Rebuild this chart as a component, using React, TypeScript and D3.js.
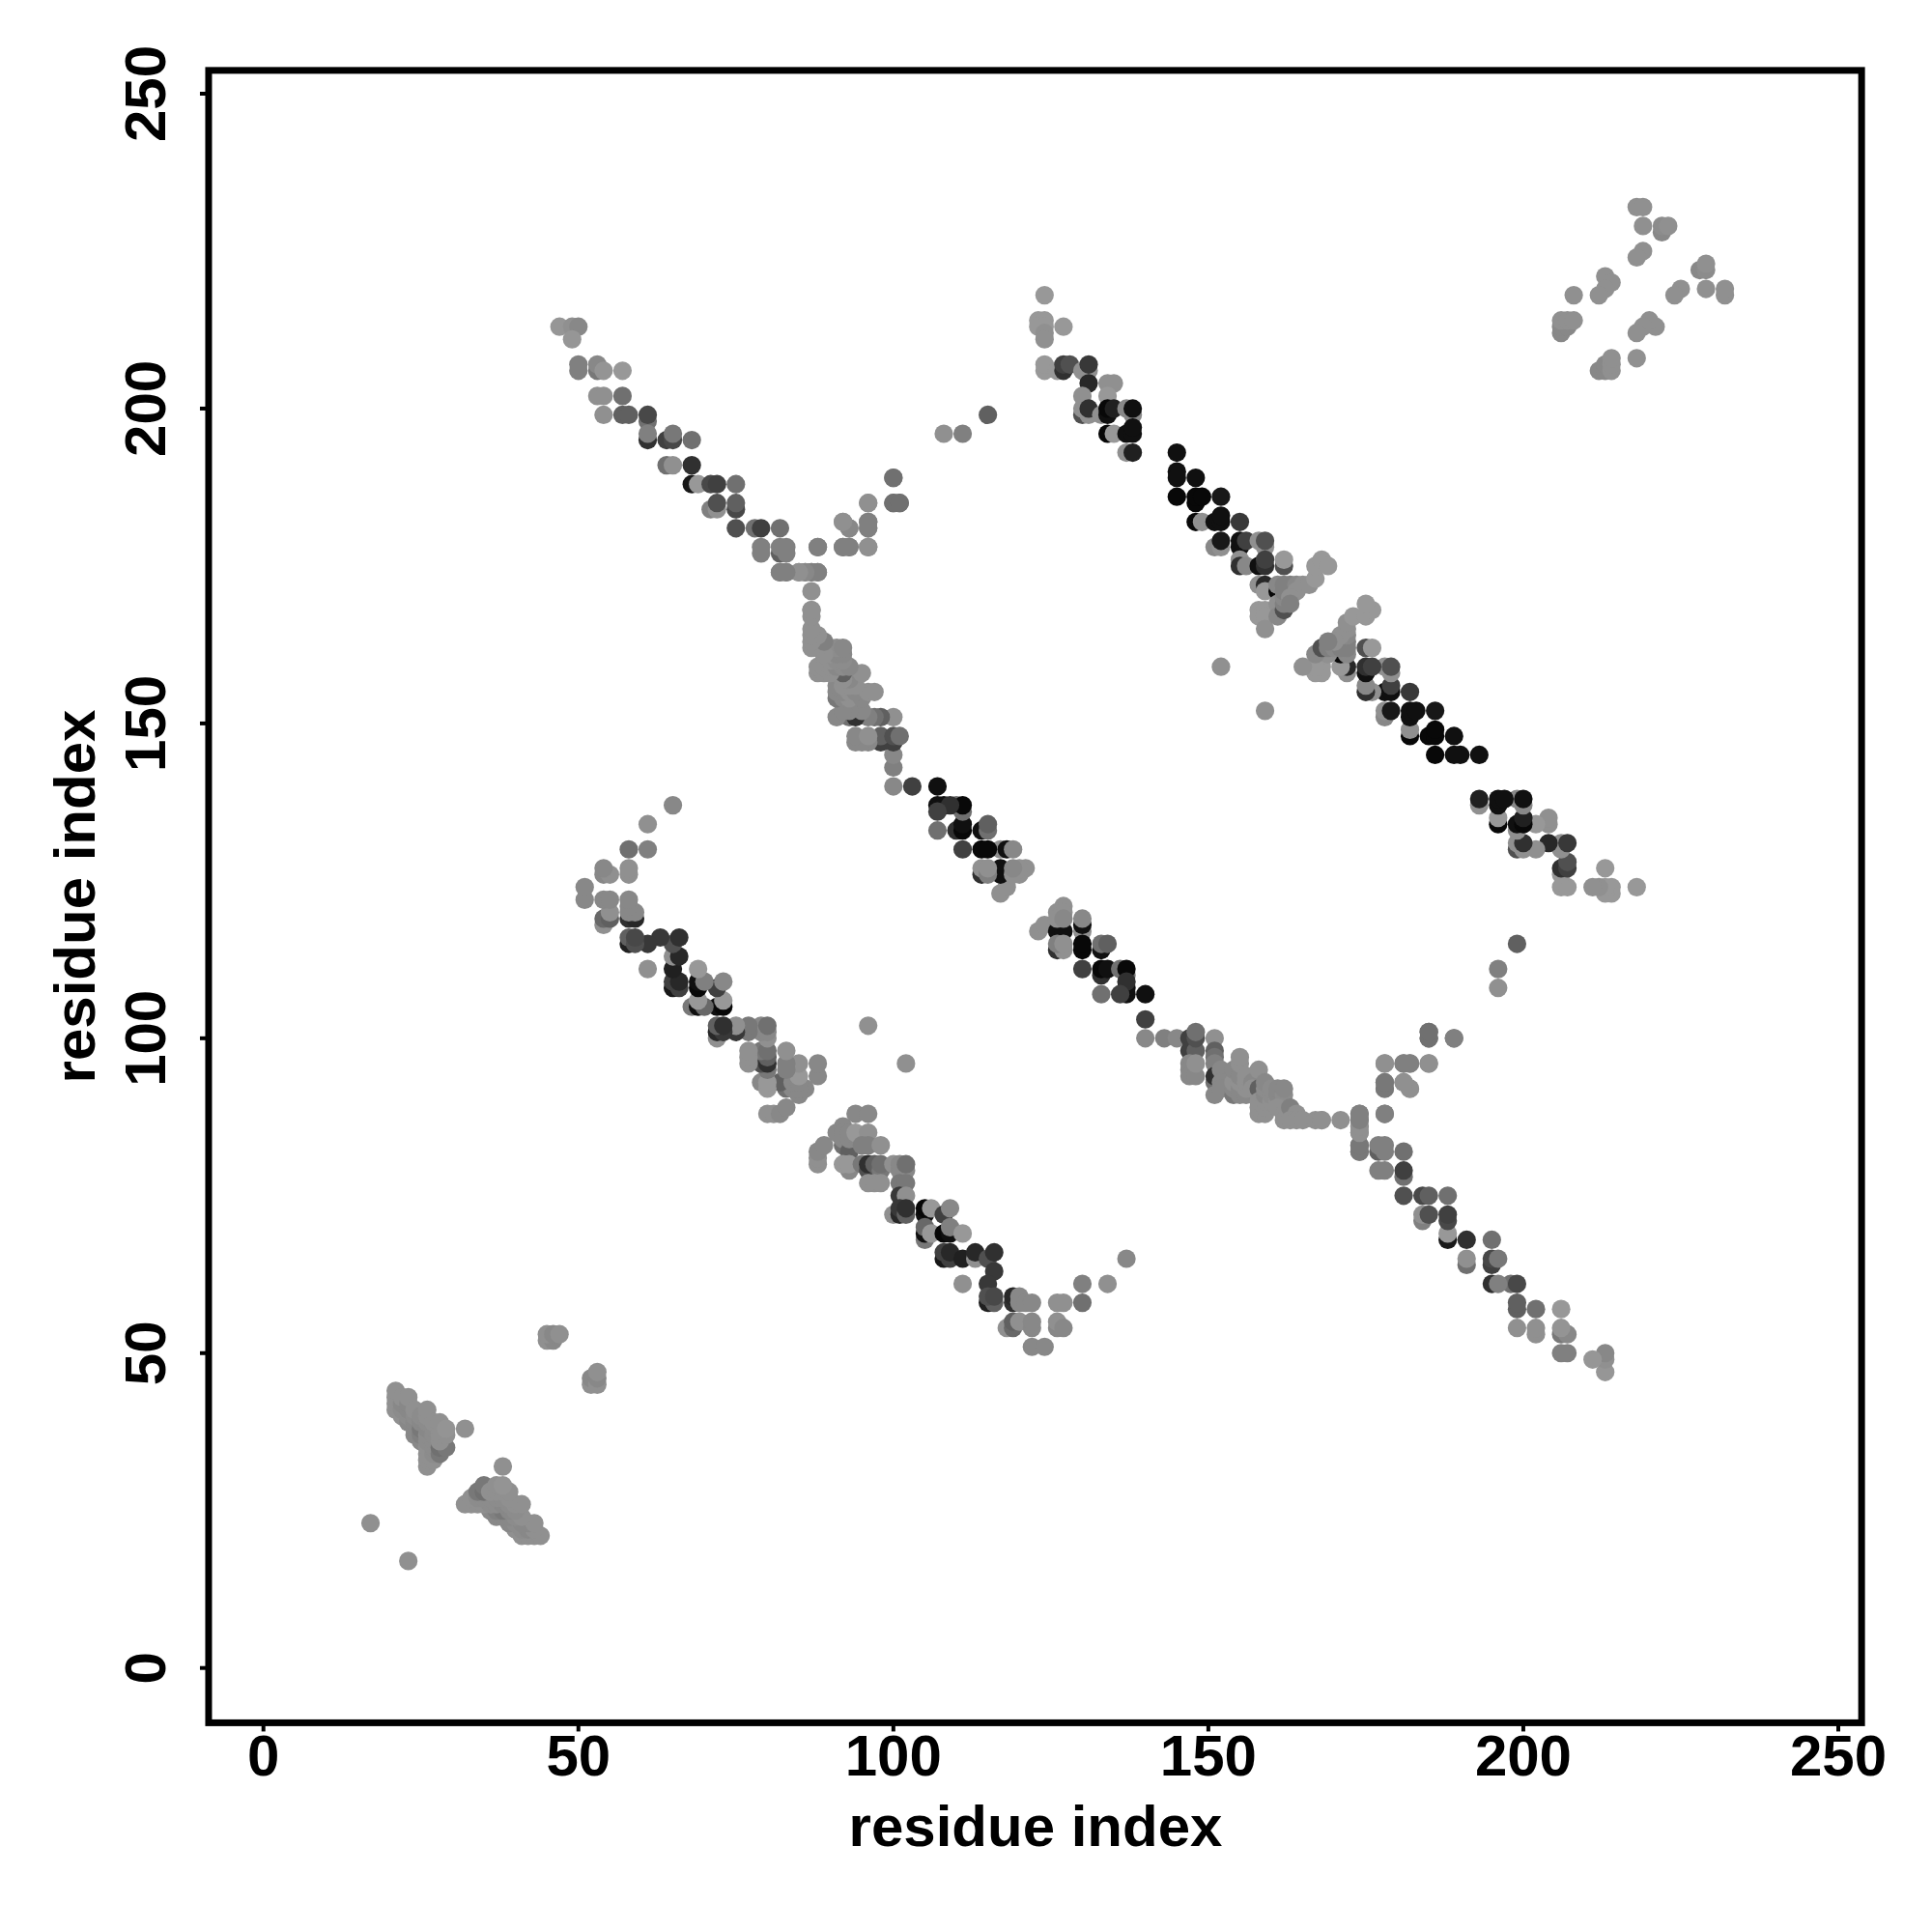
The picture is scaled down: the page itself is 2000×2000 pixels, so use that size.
import React from "react";
import * as d3 from "d3";

type C = [number, number, number];

const tickValues = [0, 50, 100, 150, 200, 250];
const axisTitle = "residue index";

const bandA: C[] = [
[47,213,0x96],[49,213,0x90],[50,213,0x88],[49,211,0x96],[50,206,0x80],[50,207,0x80],[53,206,0x78],[53,207,0x88],[54,206,0x94],[57,206,0x98],
[53,202,0x90],[54,202,0x90],[57,202,0x70],[54,199,0x90],[57,199,0x60],[58,199,0x60],[61,198,0x70],[61,199,0x48],[61,195,0x30],[61,196,0x80],
[64,195,0x40],[65,195,0x48],[65,196,0x78],[68,195,0x70],[64,191,0x70],[65,191,0x90],[68,191,0x30],[68,188,0x18],[69,188,0x98],[71,188,0x48],[72,188,0x40],[75,188,0x70],
[71,184,0x80],[72,184,0x90],[72,185,0x50],[75,184,0x48],[75,185,0x60],[75,181,0x50],[78,181,0x70],[79,181,0x40],[82,181,0x70],
[79,177,0x80],[79,178,0x80],[82,177,0x60],[83,177,0x80],[82,178,0x80],[83,178,0x80],[88,178,0x80],
[82,174,0x78],[83,174,0x78],[85,174,0x90],[86,174,0x90],[87,174,0x80],[88,174,0x80],[87,171,0x90],[87,168,0x90],
[92,178,0x78],[93,178,0x78],[96,178,0x90],[92,182,0x90],[93,181,0x90],[96,181,0x80],[96,182,0x80],[96,185,0x90],[100,185,0x70],[101,185,0x70],[100,189,0x80],
[108,196,0x90],[111,196,0x80],[115,199,0x60],
];

const bandB: C[] = [
[123,117,0x90],[124,118,0x90],[126,117,0x10],[127,117,0x10],[127,121,0x90],[126,120,0x90],[127,120,0x90],[126,119,0x90],[127,119,0x88],
[130,117,0x90],[130,118,0x10],[130,119,0x88],[126,114,0x30],[127,114,0x90],[126,115,0x80],[127,115,0x90],[130,114,0x08],[130,115,0x08],
[133,114,0x10],[133,115,0x70],[134,115,0x60],[130,111,0x40],[133,110,0x30],[133,111,0x08],[134,111,0x10],[137,110,0x70],[136,111,0x70],[137,111,0x08],
[137,107,0x10],[137,108,0x10],[137,109,0x30],[133,107,0x70],[136,107,0x40],[140,107,0x10],[140,103,0x40],[140,100,0x88],[143,100,0x80],[145,100,0x88],
[147,100,0x40],[147,98,0x40],[148,98,0x60],[147,96,0x88],[147,95,0x88],[147,94,0x88],[148,94,0x88],[148,96,0x90],[148,100,0x50],[148,101,0x70],
[151,100,0x90],[151,98,0x60],[151,97,0x70],[151,96,0x80],[151,93,0x70],[151,91,0x88],[151,94,0x30],[152,95,0x88],[152,93,0x88],[152,92,0x88],
[154,91,0x78],[154,92,0x88],[154,93,0x90],[154,95,0x88],[155,91,0x88],[155,92,0x88],[155,93,0x90],[155,94,0x88],[155,96,0x90],[155,97,0x90],[156,91,0x88],[156,92,0x90],[156,93,0x90],[156,94,0x90],[157,93,0x88],[157,92,0x90],
[158,92,0x60],[158,95,0x90],[158,88,0x90],[159,88,0x90],[158,89,0x90],[159,89,0x90],[158,90,0x90],[159,90,0x90],[159,91,0x88],[159,92,0x8c],[159,93,0x88],[160,90,0x90],[160,91,0x8c],[160,92,0x8c],
[161,90,0x90],[161,91,0x88],[161,92,0x88],[162,90,0x90],[162,91,0x8c],[162,92,0x88],[161,89,0x90],[162,88,0x90],[162,87,0x90],[163,89,0x80],[164,88,0x90],[163,87,0x90],[164,87,0x90],[165,87,0x90],
[167,87,0x90],[168,87,0x90],
];

const bandAUpperStem: C[] = [
[174,88,0x80],[174,87,0x80],[174,86,0x88],[174,85,0x90],[174,83,0x80],[174,82,0x80],[178,88,0x80],
[178,93,0x80],[178,92,0x80],[181,93,0x88],[182,92,0x90],[178,96,0x90],[181,96,0x80],[182,96,0x80],[185,96,0x90],[185,100,0x70],[185,101,0x70],[189,100,0x70],
];

const bandC: C[] = [
[124,218,0x98],[123,214,0x98],[124,214,0x98],[123,213,0x98],[124,213,0x98],[124,212,0x90],[124,211,0x90],[127,213,0x98],
[124,206,0x98],[124,207,0x98],[126,206,0x98],[127,206,0x30],[127,207,0x40],[128,207,0x50],[130,206,0x90],[131,206,0x90],[131,207,0x38],[131,204,0x28],
[130,202,0x90],[130,199,0x50],[130,200,0x90],[131,199,0x90],[131,200,0x30],[134,204,0x90],[135,204,0x90],[134,202,0x98],[133,199,0x90],
[134,199,0x10],[134,200,0x08],[135,200,0x20],[137,200,0x88],[138,199,0x88],[138,200,0x10],[134,196,0x08],[135,196,0x98],[137,196,0x10],[138,196,0x10],[138,197,0x10],
[137,193,0x90],[138,193,0x20],[145,193,0x10],[145,190,0x10],[145,189,0x10],[145,186,0x08],[148,189,0x10],[148,185,0x08],[148,186,0x08],[149,186,0x08],[152,186,0x18],
[148,182,0x08],[149,182,0x90],[151,182,0x10],[152,182,0x10],[152,183,0x10],[155,182,0x38],[151,178,0x88],[152,178,0x90],[152,179,0x18],
[155,178,0x10],[155,179,0x10],[156,179,0x40],[158,179,0x90],[159,178,0x90],[159,179,0x50],
[155,176,0x90],[155,175,0x30],[156,175,0x88],[158,175,0x10],[159,175,0x30],[159,176,0x40],[162,175,0x50],[162,176,0x98],
[158,172,0x90],[159,172,0x28],[159,171,0x98],[158,168,0x98],[158,167,0x98],[159,168,0x98],[159,167,0x98],[159,165,0x90],
[161,171,0x08],[161,172,0x88],[161,169,0x90],[161,167,0x88],[162,168,0x50],[162,169,0x80],[162,170,0x88],[162,171,0x80],[162,172,0x80],
[163,172,0x80],[164,172,0x88],[165,172,0x90],[164,171,0x90],[163,170,0x90],[163,169,0x80],[166,172,0x90],[167,173,0x98],[167,175,0x98],[168,176,0x98],[169,175,0x98],
];

const bandD: C[] = [
[88,80,0x90],[88,81,0x90],[88,82,0x88],[89,83,0x88],[91,85,0x88],[92,86,0x88],[94,88,0x88],[96,88,0x88],
[92,83,0x70],[92,84,0x88],[92,85,0x88],[93,82,0x60],[93,84,0x88],[93,85,0x88],[94,85,0x98],[96,85,0x90],[95,83,0x80],[96,83,0x80],[98,83,0x90],
[93,79,0x88],[92,80,0x98],[93,80,0x98],[95,80,0x78],[96,79,0x50],[96,80,0x30],[97,80,0x60],[98,79,0x78],[98,80,0x70],
[96,77,0x90],[97,77,0x90],[98,77,0x90],[100,80,0x90],[101,79,0x88],[102,79,0x88],[101,80,0x88],[102,80,0x70],
[101,77,0x78],[102,77,0x78],[101,75,0x38],[102,75,0x90],[100,72,0x90],[101,72,0x28],[101,73,0x38],[102,72,0x60],[102,73,0x30],
[105,72,0x10],[105,73,0x08],[106,73,0x98],[108,72,0x40],[109,73,0x88],[105,68,0x78],[105,69,0x10],[105,70,0x68],[106,69,0x98],
[108,69,0x08],[109,69,0x10],[109,70,0x80],[111,69,0x98],[108,65,0x18],[109,65,0x40],[108,66,0x40],[109,66,0x28],[111,65,0x20],
[113,65,0x90],[113,66,0x28],[115,65,0x50],[116,66,0x30],[116,63,0x38],[115,61,0x38],[111,61,0x90],
[115,58,0x20],[116,58,0x60],[115,59,0x50],[116,59,0x48],[119,58,0x30],[119,59,0x28],[120,58,0x88],[120,59,0x88],[121,58,0x88],[122,58,0x88],
[118,54,0x90],[119,54,0x68],[119,55,0x60],[120,55,0x90],[122,54,0x88],[122,55,0x88],[122,51,0x88],[124,51,0x88],
[126,58,0x90],[127,58,0x90],[126,54,0x88],[126,55,0x90],[127,54,0x88],[130,58,0x70],[130,61,0x80],[134,61,0x90],[137,65,0x88],
];

const clusterE: C[] = [
[17,23,0x90],[21,41,0x90],[21,42,0x90],[21,43,0x90],[21,44,0x90],[22,40,0x90],[22,41,0x8c],[22,42,0x88],[22,43,0x90],[23,39,0x88],[23,40,0x8c],[23,41,0x88],[23,42,0x88],[23,43,0x90],
[24,37,0x88],[24,38,0x88],[24,39,0x88],[24,40,0x8c],[24,41,0x90],[25,36,0x88],[25,37,0x80],[25,38,0x78],[25,39,0x88],[25,40,0x8c],[26,32,0x90],[26,33,0x90],[26,34,0x90],[26,35,0x90],[26,36,0x8c],[26,37,0x8c],[26,38,0x88],[26,39,0x8c],[26,40,0x90],[26,41,0x90],
[27,33,0x90],[27,34,0x8c],[27,35,0x8c],[27,36,0x8c],[27,37,0x8c],[27,38,0x8c],[28,34,0x78],[28,35,0x70],[29,35,0x78],[27,39,0x90],[28,36,0x90],[28,37,0x90],[28,38,0x90],[28,39,0x90],[29,37,0x90],[29,38,0x94],[32,38,0x90],
[45,52,0x90],[46,52,0x88],[45,53,0x90],[46,53,0x88],[47,53,0x90],
];

const clusterF: C[] = [
[218,232,0x90],[219,232,0x90],[219,229,0x90],[222,228,0x88],[222,229,0x8c],[223,229,0x90],[219,225,0x90],[218,224,0x90],
[213,221,0x90],[214,220,0x90],[213,219,0x90],[212,218,0x90],[208,218,0x90],[206,212,0x88],[206,213,0x88],[207,213,0x88],[206,214,0x90],[207,214,0x90],[208,214,0x90],
];

const strays: C[] = [[96,102,0x90],[152,159,0x90]];

const allPairs = [...clusterE, ...clusterF, ...bandA, ...bandB, ...bandAUpperStem, ...bandC, ...bandD, ...strays];

const x = d3.scaleLinear().domain([0, 250]).range([272.7, 1903]);
const y = d3.scaleLinear().domain([0, 250]).range([1726.7, 97]);
const limLow = -8.7;
const limHigh = 253.7;
const FONT = "'Liberation Sans', Arial, sans-serif";

export default function App() {
  const grey = (g: number) => d3.rgb(g, g, g).formatHex();
  return (
    <svg width={2000} height={2000} style={{ position: "absolute", left: 0, top: 0, background: "#fff" }}>
      <g>
        {allPairs.map(([a, b, g], k) => (
          <circle key={"u" + k} cx={x(a)} cy={y(b)} r={9.6} fill={grey(g)} />
        ))}
        {allPairs.map(([a, b, g], k) => (
          <circle key={"l" + k} cx={x(b)} cy={y(a)} r={9.6} fill={grey(g)} />
        ))}
      </g>
      <rect x={x(limLow)} y={y(limHigh)} width={x(limHigh) - x(limLow)} height={y(limLow) - y(limHigh)} fill="none" stroke="#000" strokeWidth={7} />
      {tickValues.map((t) => (
        <g key={t} fontFamily={FONT} fontWeight="bold" fontSize={60} fill="#000">
          <line x1={x(t)} x2={x(t)} y1={y(limLow)} y2={y(limLow) + 9} stroke="#000" strokeWidth={4} />
          <text x={x(t)} y={1838} textAnchor="middle">{t}</text>
          <line x1={x(limLow)} x2={x(limLow) - 9} y1={y(t)} y2={y(t)} stroke="#000" strokeWidth={4} />
          <text transform={`translate(171,${y(t)}) rotate(-90)`} textAnchor="middle">{t}</text>
        </g>
      ))}
      <text x={1072} y={1911} textAnchor="middle" fontFamily={FONT} fontWeight="bold" fontSize={60}>{axisTitle}</text>
      <text transform="translate(98,928) rotate(-90)" textAnchor="middle" fontFamily={FONT} fontWeight="bold" fontSize={60}>{axisTitle}</text>
    </svg>
  );
}
